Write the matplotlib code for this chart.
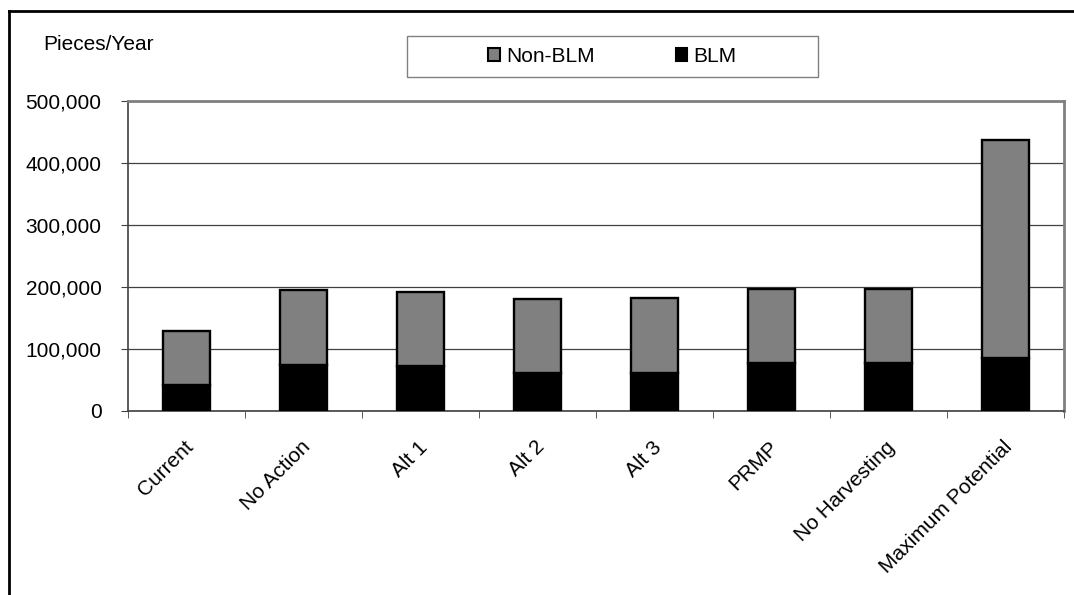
import numpy as np
import matplotlib
matplotlib.use("Agg")
import matplotlib.pyplot as plt
import matplotlib.transforms as mtransforms
from matplotlib.patches import Rectangle, Patch
from matplotlib.lines import Line2D
from matplotlib.ticker import FuncFormatter

plt.rcParams['font.family'] = ['Liberation Sans', 'DejaVu Sans']

# data
categories = ['Current', 'No Action', 'Alt 1', 'Alt 2', 'Alt 3', 'PRMP',
              'No Harvesting', 'Maximum Potential']
blm = [41500, 75000, 72000, 62000, 62000, 77000, 78000, 86000]
non_blm = [87500, 120000, 120000, 119000, 120000, 119000, 119000, 351000]
yticks = [0, 100000, 200000, 300000, 400000, 500000]

W, H = 1074, 595
fig = plt.figure(figsize=(W / 100, H / 100), dpi=100)
ax = fig.add_axes([128 / W, 1 - 411 / H, (1064 - 128) / W, (411 - 101) / H])

x = np.arange(len(categories))
ax.bar(x, blm, width=0.4, color='black', edgecolor='black', linewidth=1.7, zorder=3)
ax.bar(x, non_blm, width=0.4, bottom=blm, color='#808080', edgecolor='black',
       linewidth=1.7, zorder=3)

ax.set_xlim(-0.5, len(categories) - 0.5)
ax.set_ylim(0, 500000)
ax.set_yticks(yticks)
ax.yaxis.set_major_formatter(FuncFormatter(lambda v, p: f"{int(v):,}"))
ax.grid(axis='y', color='#404040', linewidth=0.9, zorder=0)
ax.set_axisbelow(True)

ax.set_xticks(x)
ax.set_xticklabels(categories, rotation=45, ha='right', va='top',
                   rotation_mode='anchor')
ax.set_xticks(np.arange(len(categories) + 1) - 0.5, minor=True)
ax.tick_params(axis='x', which='major', length=0, pad=19, labelsize=15)
ax.tick_params(axis='x', which='minor', length=5, color='#404040', direction='out')
ax.tick_params(axis='y', length=5, pad=14, labelsize=15, color='#404040')

# nudge the rotated labels a little left
shift = mtransforms.ScaledTranslation(-3 / 100, 0, fig.dpi_scale_trans)
for lab in ax.get_xticklabels():
    lab.set_transform(lab.get_transform() + shift)

for side in ['top', 'right']:
    ax.spines[side].set_color('#808080')
    ax.spines[side].set_linewidth(2)
ax.spines['left'].set_color('#404040')
ax.spines['bottom'].set_color('#404040')
ax.spines['left'].set_linewidth(1.2)
ax.spines['bottom'].set_linewidth(1.2)

fig.text(43 / W, 1 - 50 / H, 'Pieces/Year', fontsize=15, va='baseline', ha='left')

# legend box
fig.patches.append(Rectangle((407 / W, 1 - 77 / H), (818 - 407) / W, 41 / H,
                             transform=fig.transFigure, facecolor='white',
                             edgecolor='#808080', linewidth=1))
handles = [Patch(facecolor='#808080', edgecolor='black', linewidth=1.5),
           Patch(facecolor='black', edgecolor='black', linewidth=1.5)]
fig.legend(handles, ['Non-BLM', 'BLM'], loc='center',
           bbox_to_anchor=((407 + 818) / 2 / W, 1 - 56.5 / H), ncol=2,
           frameon=False, fontsize=15, handlelength=0.55, handleheight=0.55,
           handletextpad=0.3, columnspacing=3.9)

# outer border (left and top only visible)
fig.lines.append(Line2D([9 / W, 9 / W], [0, 1 - 11 / H], transform=fig.transFigure,
                        color='black', linewidth=2))
fig.lines.append(Line2D([9 / W, 1], [1 - 11 / H, 1 - 11 / H], transform=fig.transFigure,
                        color='black', linewidth=2))

fig.savefig('out.png', dpi=100)
